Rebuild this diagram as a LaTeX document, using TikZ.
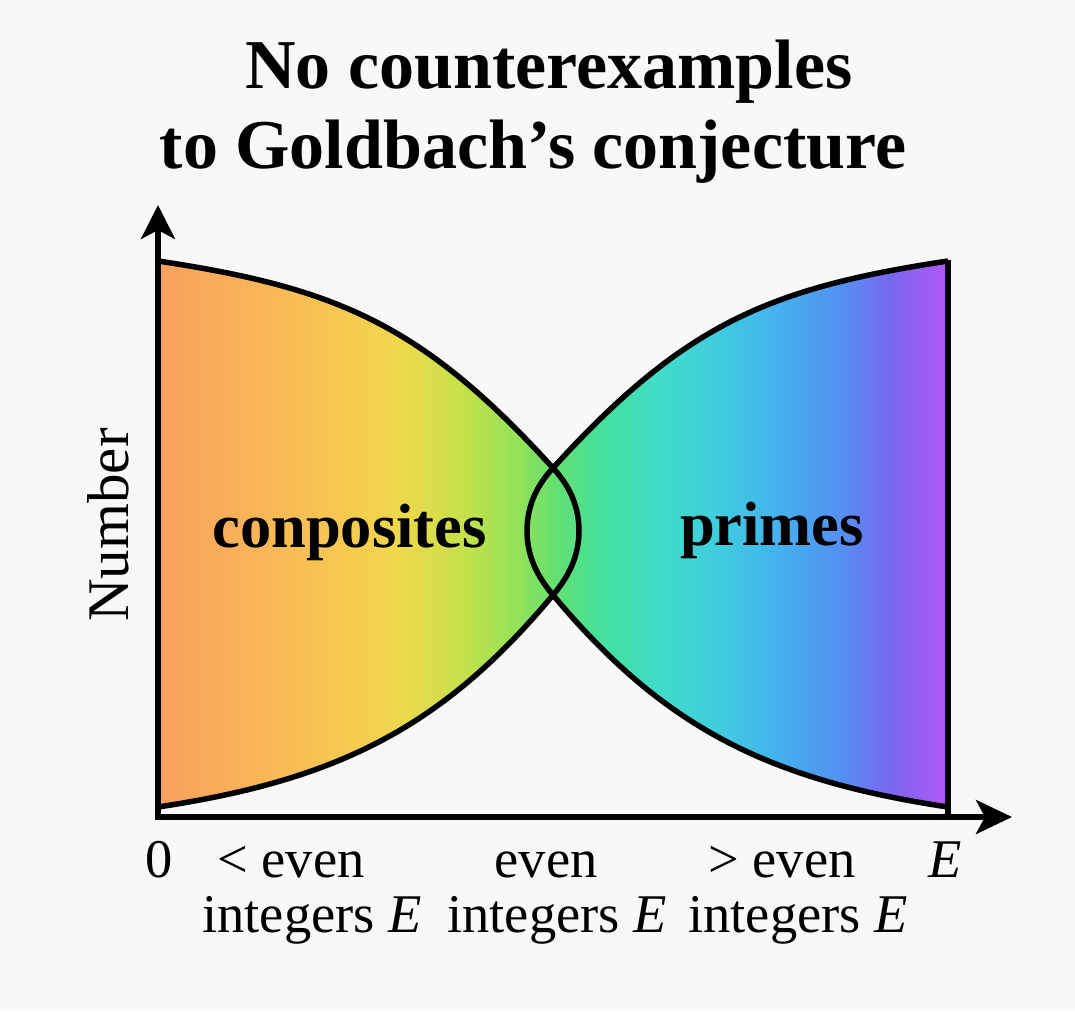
\documentclass[tikz,border=0pt]{standalone}
\usepackage{fontspec}
\setmainfont{Liberation Serif}
\usetikzlibrary{arrows.meta}
\definecolor{bgc}{HTML}{F8F8F8}
\definecolor{r0}{HTML}{F9A05F}
\definecolor{r1}{HTML}{F9B358}
\definecolor{r2}{HTML}{F8C652}
\definecolor{r3}{HTML}{EED84B}
\definecolor{r4}{HTML}{C8E14A}
\definecolor{r5}{HTML}{90E258}
\definecolor{r6}{HTML}{64E070}
\definecolor{r7}{HTML}{44E09C}
\definecolor{r8}{HTML}{40DCC8}
\definecolor{r9}{HTML}{40CCE0}
\definecolor{r10}{HTML}{44B0EE}
\definecolor{r11}{HTML}{5490F0}
\definecolor{r12}{HTML}{7868F0}
\definecolor{r13}{HTML}{B456F8}
\pgfdeclarehorizontalshading{rainbowfill}{100bp}{color(0bp)=(r0); color(25bp)=(r0); color(30.8bp)=(r1); color(35.9bp)=(r2); color(40.3bp)=(r3); color(44.1bp)=(r4); color(47.9bp)=(r5); color(50.1bp)=(r6); color(53bp)=(r7); color(56.8bp)=(r8); color(60.6bp)=(r9); color(64.4bp)=(r10); color(68.2bp)=(r11); color(71.3bp)=(r12); color(75bp)=(r13); color(100bp)=(r13)}
\begin{document}
\begin{tikzpicture}[x=1pt,y=-1pt,
  outline/.style={line width=5.5pt, line join=round, draw=black},
  axisline/.style={line width=5.5pt, line join=miter},
  titletext/.style={font=\fontsize{70}{80}\selectfont\bfseries, inner sep=0pt, anchor=base},
  regiontext/.style={font=\fontsize{62.5}{70}\selectfont\bfseries, inner sep=0pt, anchor=base},
  ticktext/.style={font=\fontsize{54.5}{60}\selectfont, inner sep=0pt, anchor=base},
  axistext/.style={font=\fontsize{59}{64}\selectfont, inner sep=0pt, anchor=base, rotate=90}]
\useasboundingbox (0,0) rectangle (1075,1011);
\fill[bgc] (0,0) rectangle (1075,1011);

% coordinates
\coordinate (O) at (158,817);
\coordinate (Ytip) at (158,205);
\coordinate (Xtip) at (1012,817);
\coordinate (Rtop) at (948,260);
\coordinate (Rbot) at (948,817);

% left shape (composites)
\def\leftpath{(158,261) .. controls (338,288) and (423,325) .. (553,468)
  .. controls (565,481) and (579,501) .. (579,531)
  .. controls (579,561) and (564,582) .. (553,595)
  .. controls (443,727) and (338,780) .. (158,807) -- cycle}
% right shape (primes)
\def\rightpath{(948,261) .. controls (768,288) and (683,325) .. (553,468)
  .. controls (541,481) and (527,501) .. (527,531)
  .. controls (527,561) and (542,582) .. (553,595)
  .. controls (663,727) and (768,780) .. (948,807) -- cycle}

\begin{scope}
  \clip \leftpath;
  \shade[shading=rainbowfill] (158,255) rectangle (948,812);
\end{scope}
\begin{scope}
  \clip \rightpath;
  \shade[shading=rainbowfill] (158,255) rectangle (948,812);
\end{scope}

\draw[outline] (158,261) .. controls (338,288) and (423,325) .. (553,468)
  .. controls (565,481) and (579,501) .. (579,531)
  .. controls (579,561) and (564,582) .. (553,595)
  .. controls (443,727) and (338,780) .. (158,807);
\draw[outline] (948,261) .. controls (768,288) and (683,325) .. (553,468)
  .. controls (541,481) and (527,501) .. (527,531)
  .. controls (527,561) and (542,582) .. (553,595)
  .. controls (663,727) and (768,780) .. (948,807);
\draw[outline] (Rtop) -- (Rbot);

% axes
\draw[axisline, {Stealth[length=34pt,width=34pt,inset=9pt]}-{Stealth[length=36pt,width=34pt,inset=9pt]}] (Ytip) -- (O) -- (Xtip);

% title
\node[titletext] (title1) at (549,89) {No counterexamples};
\node[titletext] (title2) at (533,168) {to Goldbach’s conjecture};

% region labels
\node[regiontext] (comp) at (349.5,547) {conposites};
\node[regiontext] (prim) at (772,545) {primes};

% axis label
\node[axistext] (ylab) at (128,525) {Number};

% tick labels
\node[ticktext] (zero) at (159,877) {0};
\node[ticktext] (lt) at (291,877) {< even};
\node[ticktext] (lti) at (312,932) {integers \textit{E}};
\node[ticktext] (eq) at (546,877) {even};
\node[ticktext] (eqi) at (557,932) {integers \textit{E}};
\node[ticktext] (gt) at (782,877) {> even};
\node[ticktext] (gti) at (798,932) {integers \textit{E}};
\node[ticktext] (Elab) at (945,877) {\textit{E}};
\end{tikzpicture}
\end{document}
